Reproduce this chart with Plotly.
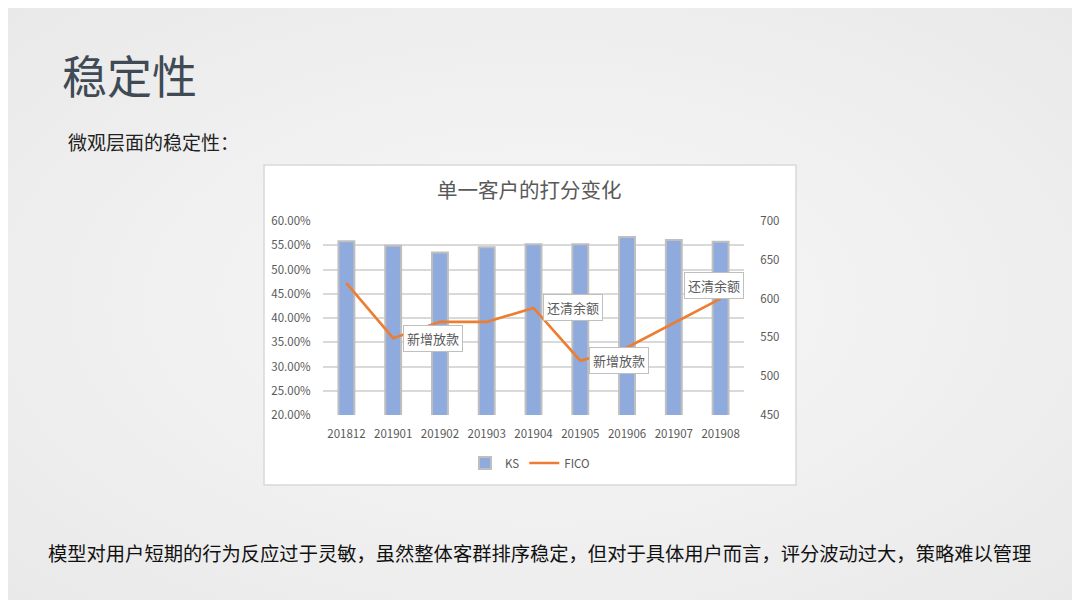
#!/usr/bin/env python3
# -*- coding: utf-8 -*-
"""单一客户的打分变化 - KS bars vs FICO line, slide-style layout."""

import urllib.parse
import plotly.graph_objects as go

# === DATA ===
months = ["201812", "201901", "201902", "201903", "201904",
          "201905", "201906", "201907", "201908"]
ks_values = [0.558, 0.549, 0.535, 0.546, 0.552, 0.552, 0.567, 0.561, 0.557]
fico_values = [620, 549, 570, 570, 588, 520, 537, 568, 600]

# callout labels on the FICO line
note_months = ["201901", "201904", "201905", "201908"]
note_texts = ["新增放款", "还清余额", "新增放款", "还清余额"]

page_title = "稳定性"
page_subtitle = "微观层面的稳定性："
chart_title = "单一客户的打分变化"
footer_text = ("模型对用户短期的行为反应过于灵敏，虽然整体客群排序稳定，"
               "但对于具体用户而言，评分波动过大，策略难以管理")

FONT = "Noto Sans CJK SC, Noto Sans, sans-serif"
GREY_TXT = "#595959"
# the page body keeps an 8px margin, so the figure is drawn a bit smaller
PAD = 8
W, H = 1080 - 2 * PAD, 608 - 2 * PAD


def px_x(x):
    return (x - PAD) / W


def px_y(y):
    return 1 - (y - PAD) / H


# soft radial background like the slide
svg_bg = (
    f"<svg xmlns='http://www.w3.org/2000/svg' width='{W}' height='{H}'>"
    "<defs><radialGradient id='g' cx='50%' cy='50%' r='75%'>"
    "<stop offset='0%' stop-color='#f8f8f8'/>"
    "<stop offset='100%' stop-color='#e8e8e8'/>"
    "</radialGradient></defs>"
    f"<rect width='{W}' height='{H}' fill='url(#g)'/></svg>"
)
bg_uri = "data:image/svg+xml;charset=utf-8," + urllib.parse.quote(svg_bg)

fig = go.Figure()

fig.add_trace(go.Bar(
    x=months, y=ks_values, name="KS",
    marker=dict(color="#8faadc", line=dict(color="#bfbfbf", width=2)),
    width=0.34,
))

fig.add_trace(go.Scatter(
    x=months, y=fico_values, name="FICO",
    mode="lines",
    line=dict(color="#ed7d31", width=2.6),
    yaxis="y2",
))

# callouts (x given as category index so it isn't read as a number)
note_offsets = {0: (40, 0), 1: (39, 0), 2: (39, 0), 3: (-7, 13)}
annotations = []
for i, (m, t) in enumerate(zip(note_months, note_texts)):
    idx = months.index(m)
    dx, dy = note_offsets[i]
    annotations.append(dict(
        x=idx, y=fico_values[idx], xref="x", yref="y2", text=t,
        showarrow=False, xshift=dx, yshift=dy,
        bgcolor="white", bordercolor="#bfbfbf", borderwidth=1, borderpad=3,
        font=dict(family=FONT, size=13, color=GREY_TXT),
    ))

# page texts
annotations += [
    dict(x=px_x(60), y=px_y(75), xref="paper", yref="paper", xanchor="left",
         yanchor="middle", text=page_title, showarrow=False,
         font=dict(family=FONT, size=45, color="#404a55")),
    dict(x=px_x(66), y=px_y(142), xref="paper", yref="paper", xanchor="left",
         yanchor="middle", text=page_subtitle, showarrow=False,
         font=dict(family=FONT, size=19, color="#222222")),
    dict(x=px_x(539), y=px_y(553), xref="paper", yref="paper", xanchor="center",
         yanchor="middle", text=footer_text, showarrow=False,
         font=dict(family=FONT, size=19.3, color="#111111")),
    dict(x=px_x(529), y=px_y(189), xref="paper", yref="paper", xanchor="center",
         yanchor="middle", text=chart_title, showarrow=False,
         font=dict(family=FONT, size=20.5, color=GREY_TXT)),
]

fig.update_layout(
    width=W, height=H,
    margin=dict(l=0, r=0, t=0, b=0, autoexpand=False),
    paper_bgcolor="#f0f0f0",
    plot_bgcolor="rgba(0,0,0,0)",
    font=dict(family=FONT, color=GREY_TXT),
    xaxis=dict(
        type="category", range=[-0.5, len(months) - 0.5],
        domain=[px_x(323), px_x(744)], automargin=False,
        showgrid=False, zeroline=False, showline=False,
        ticks="outside", ticklen=8, tickcolor="rgba(0,0,0,0)",
        tickfont=dict(size=11.5, color=GREY_TXT),
    ),
    yaxis=dict(
        domain=[px_y(415), px_y(221)], automargin=False,
        range=[0.2, 0.6], dtick=0.05, tickformat=".2%",
        showgrid=True, gridcolor="#d9d9d9", gridwidth=1.5,
        zeroline=False, showline=False,
        ticks="outside", ticklen=9, tickcolor="rgba(0,0,0,0)",
        tickfont=dict(size=11.5, color=GREY_TXT),
    ),
    yaxis2=dict(
        overlaying="y", side="right", anchor="x", automargin=False,
        range=[450, 700], dtick=50,
        showgrid=False, zeroline=False, showline=False,
        ticks="outside", ticklen=13, tickcolor="rgba(0,0,0,0)",
        tickfont=dict(size=11.5, color=GREY_TXT),
    ),
    legend=dict(
        orientation="h", x=px_x(530), xanchor="center",
        y=px_y(463), yanchor="middle",
        bgcolor="rgba(0,0,0,0)",
        font=dict(size=11.5, color=GREY_TXT),
    ),
    shapes=[dict(
        type="rect", xref="paper", yref="paper", layer="below",
        x0=px_x(264), x1=px_x(796), y0=px_y(485), y1=px_y(165),
        fillcolor="white", line=dict(color="#d9d9d9", width=1.5),
    )],
    images=[dict(
        source=bg_uri, xref="paper", yref="paper", x=0, y=1,
        sizex=1, sizey=1, xanchor="left", yanchor="top",
        sizing="stretch", layer="below",
    )],
    annotations=annotations,
)

fig.write_html("out.html")
